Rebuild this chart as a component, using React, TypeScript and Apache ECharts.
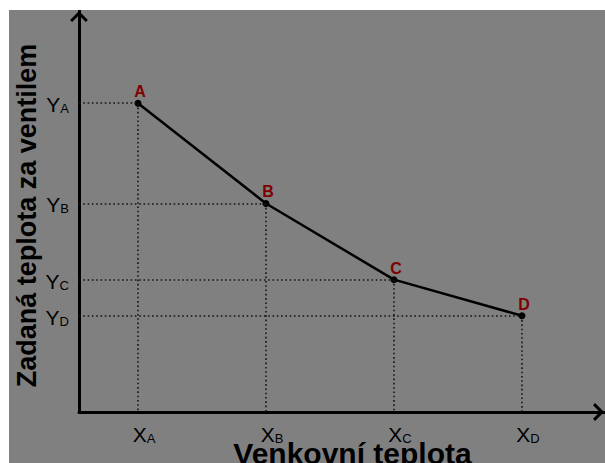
import React, { useEffect, useRef } from 'react';
import * as echarts from 'echarts';

// ---- data ----
const POINT_NAMES = ['A', 'B', 'C', 'D'];
const X_VALUES = [1, 2, 3, 4];
const Y_VALUES = [77, 52, 33, 24];
const X_TICK_MAIN = 'X';
const Y_TICK_MAIN = 'Y';
const X_AXIS_TITLE = 'Venkovní teplota';
const Y_AXIS_TITLE = 'Zadaná teplota za ventilem';
const X_MIN = 0.539;
const X_MAX = 4.641;
const Y_MIN = 0;
const Y_MAX = 100;

const FONT = '"Liberation Sans", Arial, sans-serif';
const ARROW = 'path://M10,0 L19,9 L16.88,11.12 L10,4.24 L3.12,11.12 L1,9 Z';

export default function App() {
  const ref = useRef<HTMLDivElement>(null);

  useEffect(() => {
    if (!ref.current) return;
    const chart = echarts.init(ref.current, undefined, { renderer: 'svg' });

    const subOf = (vals: number[], v: number) => {
      let best = 0;
      vals.forEach((x, i) => {
        if (Math.abs(x - v) < Math.abs(vals[best] - v)) best = i;
      });
      return POINT_NAMES[best];
    };

    const rich = {
      m: { fontSize: 21, color: '#000', fontFamily: FONT },
      s: { fontSize: 13, color: '#000', fontFamily: FONT, verticalAlign: 'bottom', lineHeight: 9 },
    };

    const markData: any[] = [];
    X_VALUES.forEach((x, i) => {
      markData.push([{ coord: [X_MIN, Y_VALUES[i]] }, { coord: [x, Y_VALUES[i]] }]);
      markData.push([{ coord: [x, Y_VALUES[i]] }, { coord: [x, Y_MIN] }]);
    });

    chart.setOption({
      animation: false,
      backgroundColor: '#808080',
      grid: {
        left: 70,
        right: 1,
        top: 1,
        bottom: 51,
        containLabel: false,
        outerBoundsMode: 'none',
      },
      xAxis: {
        type: 'value',
        min: X_MIN,
        max: X_MAX,
        name: X_AXIS_TITLE,
        nameLocation: 'middle',
        nameGap: 26,
        nameMoveOverlap: false,
        nameTextStyle: {
          fontFamily: FONT,
          fontWeight: 'bold',
          fontSize: 30,
          color: '#000',
          padding: [0, 0, 0, 22],
        },
        axisLine: {
          show: true,
          onZero: false,
          lineStyle: { color: '#000', width: 3 },
          symbol: ['none', ARROW],
          symbolSize: [18, 11],
          symbolOffset: [0, -5.5],
        },
        axisTick: { show: false },
        splitLine: { show: false },
        axisLabel: {
          customValues: X_VALUES,
          margin: 12,
          padding: [0, 0, 0, 12],
          formatter: (v: number) => `{m|${X_TICK_MAIN}}{s|${subOf(X_VALUES, v)}}`,
          rich,
        },
      },
      yAxis: {
        type: 'value',
        min: Y_MIN,
        max: Y_MAX,
        name: Y_AXIS_TITLE,
        nameLocation: 'middle',
        nameRotate: 90,
        nameGap: 39,
        nameMoveOverlap: false,
        nameTextStyle: {
          fontFamily: FONT,
          fontWeight: 'bold',
          fontSize: 27,
          color: '#000',
          padding: [0, 8, 0, 0],
        },
        axisLine: {
          show: true,
          onZero: false,
          lineStyle: { color: '#000', width: 3 },
          symbol: ['none', ARROW],
          symbolSize: [18, 11],
          symbolOffset: [0, -5.5],
        },
        axisTick: { show: false },
        splitLine: { show: false },
        axisLabel: {
          customValues: Y_VALUES,
          margin: 10,
          padding: [3, 0, 0, 0],
          formatter: (v: number) => `{m|${Y_TICK_MAIN}}{s|${subOf(Y_VALUES, v)}}`,
          rich,
        },
      },
      series: [
        {
          type: 'line',
          data: X_VALUES.map((x, i) => ({ name: POINT_NAMES[i], value: [x, Y_VALUES[i]] })),
          symbol: 'circle',
          symbolSize: 7,
          itemStyle: { color: '#000' },
          lineStyle: { color: '#000', width: 2.5 },
          label: {
            show: true,
            position: 'top',
            distance: 0,
            offset: [2, 0],
            formatter: '{b}',
            color: '#7f0000',
            fontWeight: 'bold',
            fontSize: 16,
            fontFamily: FONT,
          },
          emphasis: { disabled: true },
          markLine: {
            silent: true,
            symbol: ['none', 'none'],
            label: { show: false },
            lineStyle: { type: [1.6, 2.7], color: '#141414', width: 1.6 },
            emphasis: { disabled: true },
            data: markData,
          },
        },
      ],
    });

    return () => chart.dispose();
  }, []);

  return (
    <div
      ref={ref}
      style={{ position: 'absolute', left: 9, top: 10, width: 596, height: 453 }}
    />
  );
}
